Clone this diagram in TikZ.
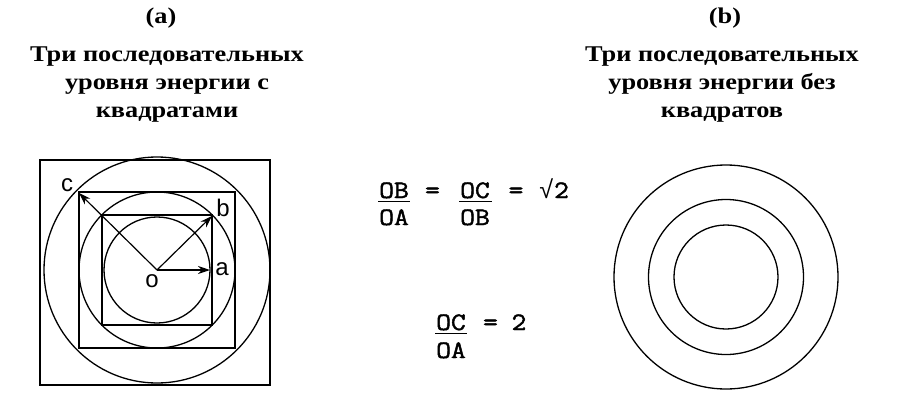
\documentclass[tikz,border=0pt]{standalone}
\usepackage{fontspec}
\setmainfont{Liberation Serif}
\setsansfont{Liberation Sans}
\newfontfamily\titleF[FakeStretch=1.17]{Liberation Serif}
\newfontfamily\monoF[FakeStretch=1.15,FakeBold=1.8]{Latin Modern Mono}
\newfontfamily\symF{Liberation Mono}
\usetikzlibrary{arrows.meta}
\tikzset{
  ring/.style={draw=black, line width=1.3pt},
  frame/.style={draw=black, line width=1.1pt},
  vec/.style={draw=black, line width=1.2pt, -{Stealth[length=12pt,width=8pt]}},
  title/.style={font=\titleF\bfseries\fontsize{22.5}{28}\selectfont, align=center, inner sep=0pt},
  lbl/.style={font=\sffamily\fontsize{24}{24}\selectfont, inner sep=0pt},
  eq/.style={font=\monoF\fontsize{25}{25}\selectfont, inner sep=0pt, anchor=base},
  bar/.style={draw=black, line width=1.2pt}
}
\begin{document}
\begin{tikzpicture}[x=1pt,y=-1pt]
\useasboundingbox[fill=white] (0,0) rectangle (900,405);

% ---------- titles ----------
\node[title, anchor=base] (ta) at (161,23) {(a)};
\node[title] (tta) at (167,85) {Три последовательных\\уровня энергии с\\квадратами};
\node[title, anchor=base] (tb) at (725,23) {(b)};
\node[title] (ttb) at (722,85) {Три последовательных\\уровня энергии без\\квадратов};

% ---------- figure (a) ----------
\coordinate (O) at (157,270);
\draw[frame] (40,160) rectangle (270,385);
\draw[ring] (O) circle[radius=113];
\draw[frame] (79,192) rectangle (235,348);
\draw[ring] (O) circle[radius=78];
\draw[frame] (102,215) rectangle (212,325);
\draw[ring] (O) circle[radius=53];

\coordinate (A) at (210,270);
\coordinate (B) at (212,216);
\coordinate (C) at (79,193);
\draw[vec] (O) -- (A);
\draw[vec] (O) -- (B);
\draw[vec] (O) -- (C);

\node[lbl] (la) at (222,269) {a};
\node[lbl] (lb) at (223,208) {b};
\node[lbl] (lc) at (67,185) {c};
\node[lbl] (lo) at (152,281) {o};

% ---------- formulas ----------
\node[eq] (n1) at (394,198) {OB};
\node[eq] (d1) at (394,225) {OA};
\draw[bar] (378,201.5) -- (410,201.5);
\node[eq] (e1) at (432.5,198) {=};
\node[eq] (n2) at (475,198) {OC};
\node[eq] (d2) at (475,225) {OB};
\draw[bar] (459,201.5) -- (492,201.5);
\node[eq] (e2) at (516,198) {=};
\node[eq] (r2) at (554,198) {{\symF√}2};

\node[eq] (n3) at (451,330) {OC};
\node[eq] (d3) at (451,358) {OA};
\draw[bar] (435,333.5) -- (467,333.5);
\node[eq] (e3) at (490.5,330) {=};
\node[eq] (two) at (519,330) {2};

% ---------- figure (b) ----------
\coordinate (P) at (726,277);
\draw[ring] (P) circle[radius=112];
\draw[ring] (P) circle[radius=77.5];
\draw[ring] (P) circle[radius=52];
\end{tikzpicture}
\end{document}
